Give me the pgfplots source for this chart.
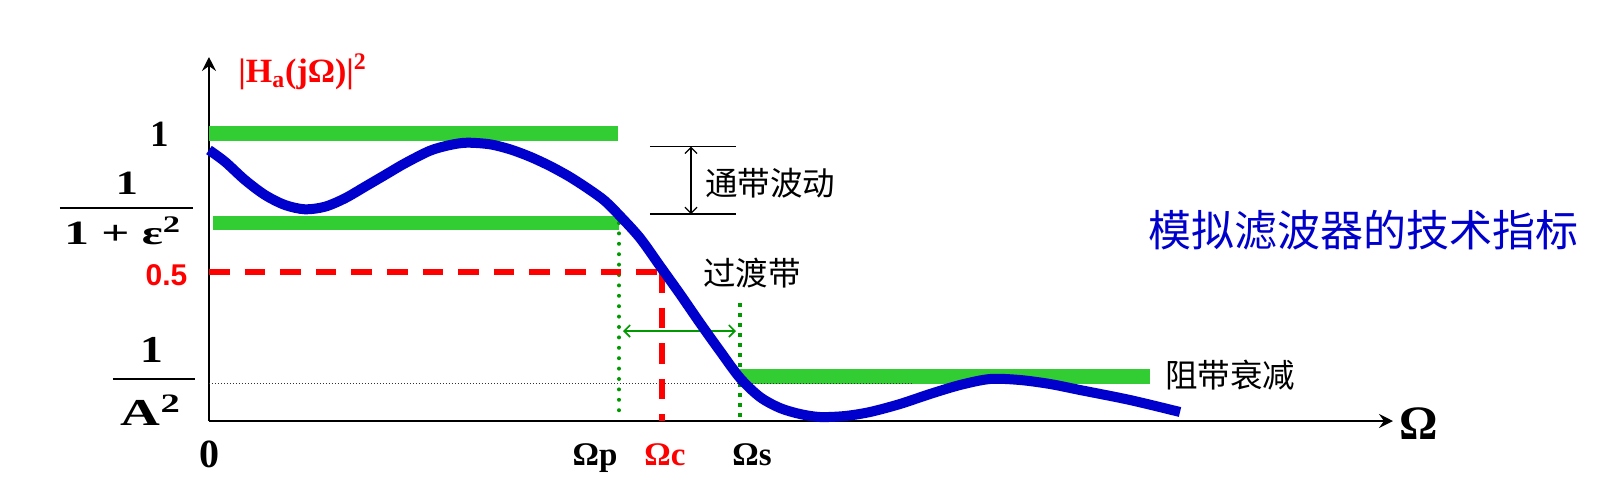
\documentclass[border=0pt]{standalone}
\usepackage{fontspec}
\usepackage{graphicx}
\usepackage{pgfplots}
\pgfplotsset{compat=1.18}
\usetikzlibrary{arrows.meta}
\setmainfont{Liberation Serif}
\newfontfamily\cjk{Noto Sans CJK SC}
\newfontfamily\arial{Liberation Sans}
\definecolor{cgreen}{RGB}{50,205,50}
\definecolor{dgreen}{RGB}{0,153,0}
\definecolor{cblue}{RGB}{0,0,204}
\definecolor{cred}{RGB}{255,0,0}
\begin{document}
\begin{tikzpicture}
\begin{axis}[
 x=0.5pt, y=0.5pt,
 xmin=0, xmax=1184, ymin=0, ymax=364,
 axis lines=left,
 axis line style={line width=1pt, -{Stealth[length=7pt,width=7pt,inset=2.5pt]}},
 ticks=none,
 clip=false,
]
% bounding box of the whole picture
\path (axis cs:-209,-58) rectangle (axis cs:1399,421);
% green spec bars
\addplot[cgreen, line width=7.25pt, forget plot] coordinates {(0,287.5) (409,287.5)};
\addplot[cgreen, line width=7.25pt, forget plot] coordinates {(4,198) (410,198)};
\addplot[cgreen, line width=7.25pt, forget plot] coordinates {(531,44.5) (941,44.5)};
% 1/A^2 dotted line
\addplot[black!80, line width=0.55pt, dash pattern=on 0.6pt off 0.9pt, forget plot] coordinates {(0,37.5) (704,37.5)};
% Omega_p and Omega_s dotted lines
\addplot[dgreen, line width=2pt, line cap=round, dash pattern=on 0pt off 5.2pt, forget plot] coordinates {(410,198) (410,1)};
\addplot[dgreen, line width=2.2pt, dash pattern=on 2.2pt off 2.8pt, forget plot] coordinates {(531,118) (531,1)};
% 0.5 / Omega_c dashed lines
\addplot[cred, line width=3pt, dash pattern=on 10.3pt off 7.5pt, forget plot] coordinates {(0,149) (453,149)};
\addplot[cred, line width=3pt, dash pattern=on 10.3pt off 7.5pt, forget plot] coordinates {(453,149) (453,0)};
% transition band arrow
\addplot[dgreen, line width=0.8pt, {Straight Barb[length=3pt]}-{Straight Barb[length=3pt]}, forget plot] coordinates {(414,90) (527,90)};
% passband ripple annotation
\addplot[black, line width=0.6pt, forget plot] coordinates {(441,274.3) (527,274.3)};
\addplot[black, line width=0.6pt, forget plot] coordinates {(441,207) (527,207)};
\addplot[black, line width=0.6pt, {Straight Barb[length=3pt]}-{Straight Barb[length=3pt]}, forget plot] coordinates {(482,274.3) (482,207)};
% magnitude response
\addplot[cblue, line width=5pt, smooth, forget plot] coordinates {
(0,271) (16,259.3) (36,241) (56,226) (76,216) (96,211.7) (116,214.3)
(136,222.7) (156,234.3) (176,246) (196,257.7) (221,270.3) (241,276)
(258,278.3) (281,276.7) (301,271.7) (321,264.3) (341,255) (361,244)
(381,231) (396,220) (411,205) (431,183) (451,155) (471,127) (491,98)
(511,70) (531,43) (551,24) (571,13) (591,7) (611,4) (636,5) (661,9)
(691,17) (721,27) (751,36) (781,42) (811,41) (841,37) (871,31) (921,21) (971,9)};
% labels
\node[anchor=base west, inner sep=0, text=cred, font=\fontsize{17}{17}\selectfont\bfseries] at (axis cs:29,339) {|H\textsubscript{a}(jΩ)|\textsuperscript{2}};
\node[inner sep=0, font=\fontsize{18.5}{18.5}\selectfont\bfseries] at (axis cs:-49.5,286.5) {1};
\node[inner sep=0, font=\fontsize{17}{17}\selectfont\bfseries] at (axis cs:-82,237.5) {\scalebox{1.3}[1]{1}};
\node[inner sep=0] at (axis cs:-82.5,213) {\rule{66.5pt}{1pt}};
\node[inner sep=0, font=\fontsize{17}{17}\selectfont\bfseries] at (axis cs:-86,190) {\scalebox{1.45}[1]{1 + ε\textsuperscript{2}}};
\node[inner sep=0, text=cred, font=\fontsize{15}{15}\selectfont\arial\bfseries] at (axis cs:-42.5,146) {0.5};
\node[inner sep=0, font=\fontsize{19}{19}\selectfont\bfseries] at (axis cs:-57,71) {\scalebox{1.2}[1]{1}};
\node[inner sep=0] at (axis cs:-55,42) {\rule{41pt}{1pt}};
\node[inner sep=0, font=\fontsize{19}{19}\selectfont\bfseries] at (axis cs:-58,11) {\scalebox{1.45}[1]{A\textsuperscript{2}}};
\node[anchor=base, inner sep=0, font=\fontsize{20}{20}\selectfont\bfseries] at (axis cs:0.5,-46) {0};
\node[anchor=base, inner sep=0, font=\fontsize{16.5}{16.5}\selectfont\bfseries] at (axis cs:386,-44) {Ωp};
\node[anchor=base, inner sep=0, text=cred, font=\fontsize{16.5}{16.5}\selectfont\bfseries] at (axis cs:456,-44) {Ωc};
\node[anchor=base, inner sep=0, font=\fontsize{16.5}{16.5}\selectfont\bfseries] at (axis cs:543,-44) {Ωs};
\node[anchor=base, inner sep=0, font=\fontsize{24}{24}\selectfont\bfseries] at (axis cs:1210,-18) {Ω};
\node[anchor=west, inner sep=0, font=\fontsize{16.25}{16.25}\selectfont\cjk] at (axis cs:496,238) {通带波动};
\node[anchor=west, inner sep=0, font=\fontsize{16.25}{16.25}\selectfont\cjk] at (axis cs:494,148) {过渡带};
\node[anchor=west, inner sep=0, font=\fontsize{16.25}{16.25}\selectfont\cjk] at (axis cs:956,46) {阻带衰减};
\node[anchor=west, inner sep=0, text=cblue, font=\fontsize{21.5}{21.5}\selectfont\cjk] at (axis cs:939,191) {模拟滤波器的技术指标};
\end{axis}
\end{tikzpicture}
\end{document}
